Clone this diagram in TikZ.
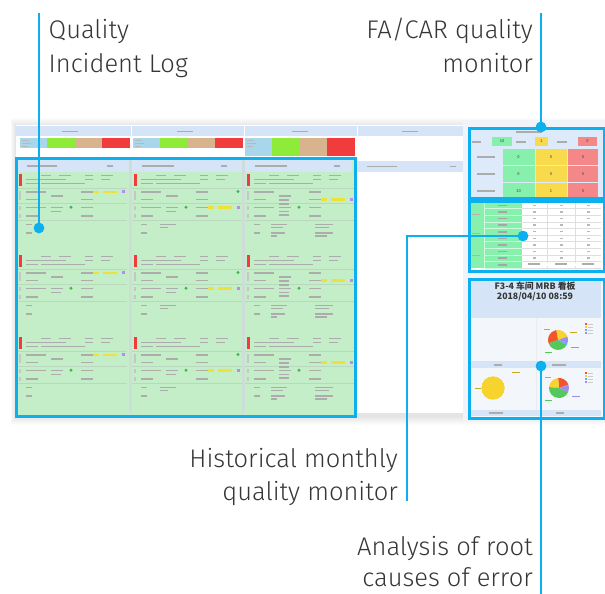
\documentclass[tikz,border=0pt]{standalone}
\usepackage{fontspec}
\setmainfont{Fira Sans Light}
\newfontfamily\cjk{Noto Sans CJK SC}
\definecolor{cy}{HTML}{0DB0EE}
\definecolor{lblue}{HTML}{D5E5F7}
\definecolor{lgreen}{HTML}{C4EEC8}
\definecolor{bgreen}{HTML}{8EEB3A}
\definecolor{tanc}{HTML}{D8B48E}
\definecolor{rred}{HTML}{F03C3C}
\definecolor{sky}{HTML}{A8D6EA}
\definecolor{txt}{HTML}{363636}
\definecolor{mgreen}{HTML}{86F0AC}
\definecolor{myel}{HTML}{F8DA4C}
\definecolor{mred}{HTML}{F48888}
\definecolor{hy}{HTML}{EEE23A}
\definecolor{hp}{HTML}{B98AF0}
\definecolor{dg}{HTML}{3DB84A}
\definecolor{sepc}{HTML}{B9D8BE}
\definecolor{colsep}{HTML}{CFDDD8}
\definecolor{rbg}{HTML}{F0F4FA}
\definecolor{abg}{HTML}{F3F7FC}
\definecolor{porange}{HTML}{F2552C}
\definecolor{pyellow}{HTML}{F6D32D}
\definecolor{pgreen}{HTML}{52C95A}
\definecolor{ppurple}{HTML}{9F8CF0}
\definecolor{pblue}{HTML}{6FA8F5}
\newcommand\tbar[3]{\fill[gray!65] (#1,#2) rectangle ++(#3,1.5);}
\newcommand\logcard[4]{%
\begin{scope}[shift={(#1,#2)}]
 \fill[rred] (4,2) rectangle (7,14);
 \tbar{26}{2.5}{10}\tbar{44}{2.5}{12}\tbar{70}{2.5}{8}\tbar{86}{2.5}{12}
 \tbar{11}{6.5}{40}\tbar{70}{6.5}{8}\tbar{86}{6.5}{9}
 \tbar{11}{10.5}{12}\tbar{26}{10.5}{44}
 \draw[sepc,line width=0.6pt] (2,16) -- (112,16);
 \fill[gray!45] (4,19) rectangle (5.5,28);
 \tbar{11}{19}{20}\tbar{66}{19}{12}
 \tbar{36}{23}{12}
 \tbar{11}{26.5}{12}\tbar{66}{26.5}{12}
 \draw[sepc,line width=0.6pt] (2,31) -- (112,31);
 \fill[gray!45] (4,34) rectangle (5.5,38);
 \tbar{11}{34.5}{20}\tbar{36}{34.5}{12}\fill[dg] (56,35.2) circle (1.6);\tbar{66}{34.5}{12}
 \tbar{36}{38.5}{10}
 \fill[gray!45] (4,42) rectangle (5.5,46);
 \tbar{11}{43}{12}\tbar{66}{43}{12}
 \draw[sepc,line width=0.6pt] (2,48) -- (112,48);
 \tbar{11}{51.5}{6}\tbar{11}{60}{6}
 \fill[hy] (78,#3) rectangle ++(6,2.6);
 \fill[hy] (88,#3) rectangle ++(14,2.6);
 \fill[hp] (107,#3-0.3) rectangle ++(3,3);
 #4
\end{scope}}
\newcommand\pieslice[5]{\fill[#5] (#1) -- ++(-#2:#4) arc[start angle=-#2, end angle=-#3, radius=#4] -- cycle;}
\begin{document}
\begin{tikzpicture}[x=1pt,y=-1pt,
  callout/.style={draw=cy, line width=2.3pt},
  dot/.style={circle, fill=cy, inner sep=0pt, minimum size=10.5pt},
  lbl/.style={text=txt, font=\fontsize{25.5}{34}\selectfont, inner sep=0pt},
  frame/.style={draw=cy, line width=2.5pt, inner sep=0pt, anchor=north west},
  tiny/.style={font=\cjk\fontsize{4}{5}\selectfont, inner sep=0pt, text=txt}]
\useasboundingbox (0,0) rectangle (605,594);
% shadow of the screenshot
\foreach \i in {1,...,9}
  \fill[black,opacity=0.012] (16-\i*0.6,125-\i+2) rectangle (605,413+\i+3);
\fill[white] (16,125) rectangle (605,413);
% header strip
\fill[lblue] (16,126) rectangle (465,136);
\tbar{62}{130.5}{16}\tbar{177}{130.5}{16}\tbar{292}{130.5}{16}\tbar{402}{130.5}{16}
\draw[white,line width=0.8pt] (131,126) -- (131,136) (244,126) -- (244,136) (357,126) -- (357,136);
% colour bars
\foreach \x/\h in {20/148,133/148,245/156}{
  \fill[sky] (\x,138) rectangle (\x+27,\h);
  \fill[bgreen] (\x+27,138) rectangle (\x+55,\h);
  \fill[tanc] (\x+55,138) rectangle (\x+82,\h);
  \fill[rred] (\x+82,138) rectangle (\x+110,\h);
  \fill[gray!55] (\x+2,140) rectangle ++(7,1.2);
  \fill[gray!55] (\x+2,143) rectangle ++(9,1.2);
  \fill[gray!55] (\x+2,146) rectangle ++(6,1.2);
}
% fourth column header (outside the log)
\fill[lblue] (357,161) rectangle (465,172);
\tbar{367}{165.8}{30}\tbar{450}{165.8}{6}
% right column background
\fill[rbg] (463,120) rectangle (605,420);
% ---------- log area ----------
\fill[lgreen] (15,157) rectangle (354,415);
\fill[lblue] (17,159) rectangle (352,172);
\tbar{27}{165}{30}\tbar{107}{165}{6}
\tbar{142}{165}{32}\tbar{221}{165}{6}
\tbar{255}{165}{32}\tbar{334}{165}{6}
\fill[colsep] (129,159) rectangle (131.5,413);
\fill[colsep] (242,159) rectangle (244.5,413);
\foreach \y in {172,253,335}{
  \logcard{15}{\y}{18.5}{}
  \logcard{130}{\y}{34}{\tbar{30}{51.5}{16}\tbar{30}{54.5}{8}\fill[dg] (108,19.5) circle (1.6);}
  \logcard{243}{\y}{26}{\tbar{28}{51.5}{16}\tbar{28}{54.5}{12}\tbar{28}{60}{14}\tbar{28}{63}{6}
     \tbar{72}{51.5}{18}\tbar{72}{54.5}{14}\tbar{72}{60}{18}\tbar{72}{63}{12}\tbar{36}{27}{10}\tbar{36}{31}{10}\tbar{36}{42}{10}}
}
% ---------- FA/CAR monitor ----------
\fill[lblue!80!white] (468,127) rectangle (603,197);
\tbar{516}{131}{26}
\tbar{472}{141}{9}\tbar{516}{141}{10}\tbar{557}{141}{10}
\fill[mgreen] (492,137) rectangle (512,146);
\fill[myel] (535,137) rectangle (548,146);
\fill[mred] (578,137) rectangle (597,146);
\node[tiny] (c11) at (502,141.5) {10};
\node[tiny] (c12) at (541.5,141.5) {1};
\node[tiny] (c13) at (587.5,141.5) {0};
\foreach \y/\a/\b/\c/\r in {149/0/0/0/2,166/0/0/0/3,183/10/1/0/4}{
  \fill[mgreen] (503,\y) rectangle (534.5,\y+15.5);
  \fill[myel] (536,\y) rectangle (566.5,\y+15.5);
  \fill[mred] (568,\y) rectangle (598,\y+15.5);
  \tbar{477}{\y+7}{18}
  \node[tiny] (g\r) at (518.5,\y+7.7) {\a};
  \node[tiny] (y\r) at (551,\y+7.7) {\b};
  \node[tiny] (r\r) at (583,\y+7.7) {\c};
}
% ---------- Historical monthly ----------
\fill[white] (468,200) rectangle (603,270);
\fill[mgreen] (470,202) rectangle (522,268);
\foreach \k in {0,...,9}{
  \pgfmathsetmacro\yy{202+\k*6.6}
  \draw[gray!25,line width=0.5pt] (522,\yy+6.6) -- (601,\yy+6.6);
  \draw[white!60!mgreen,line width=0.5pt] (484,\yy+6.6) -- (522,\yy+6.6);
  \fill[gray!70] (498,\yy+2.6) rectangle ++(9,1.5);
  \fill[gray!55] (533,\yy+2.6) rectangle ++(3,1.3);
  \fill[gray!55] (560,\yy+2.6) rectangle ++(3,1.3);
  \fill[gray!55] (587,\yy+2.6) rectangle ++(3,1.3);
}
\fill[gray!60] (472,214) rectangle ++(8,1.3);
\fill[gray!60] (472,233) rectangle ++(8,1.3);
\fill[gray!60] (472,255) rectangle ++(8,1.3);
\draw[white!60!mgreen,line width=0.5pt] (484,202) -- (484,268);
\draw[gray!25,line width=0.5pt] (547,202) -- (547,268) (575,202) -- (575,268);
\fill[white] (529,262.5) rectangle (600,266);
\tbar{528}{263}{12}\tbar{555}{263}{12}\tbar{582}{263}{12}
% ---------- Analysis of root causes ----------
\fill[abg] (468,278) rectangle (603,417);
\fill[lblue] (470,280) rectangle (601,318);
\node[font=\cjk\bfseries\fontsize{8.8}{10}\selectfont, text=txt, inner sep=0pt] (atitle) at (535,286.5) {F3-4 车间 MRB 看板};
\node[font=\cjk\bfseries\fontsize{8.8}{10}\selectfont, text=txt, inner sep=0pt] (adate) at (535,296.5) {2018/04/10 08:59};
\draw[gray!15,line width=0.6pt] (536,318) -- (536,415);
\fill[lblue] (470,361) rectangle (601,368);
\tbar{494}{364}{8}\tbar{552}{364}{14}
\fill[lblue] (470,410) rectangle (601,416);
\tbar{489}{412}{14}\tbar{556}{412}{8}
% top-right pie
\coordinate (p1) at (558,340);
\pieslice{p1}{20}{100}{10}{pyellow}
\pieslice{p1}{100}{200}{10}{porange}
\pieslice{p1}{200}{330}{10}{pgreen}
\pieslice{p1}{330}{345}{10}{pblue}
\pieslice{p1}{345}{380}{10}{ppurple}
\foreach \c [count=\j] in {porange,pyellow,pblue,ppurple}{
  \fill[\c] (585,320+\j*3) rectangle ++(2,2);
  \fill[gray!40] (588,320.5+\j*3) rectangle ++(5,1);
}
\fill[porange!70] (544,329) rectangle ++(6,1);
\fill[pyellow!80!black] (570,332) rectangle ++(7,1);
\fill[ppurple] (571,347) rectangle ++(8,1);
\fill[pgreen] (545,352) rectangle ++(7,1);
% bottom-left circle
\fill[pyellow] (493,388) circle (11.7);
\fill[pyellow!80!black] (475,388) rectangle ++(6,1);
\fill[pyellow!80!black] (512,372) rectangle ++(8,1);
% bottom-right pie
\coordinate (p2) at (559,388);
\pieslice{p2}{20}{95}{10}{porange}
\pieslice{p2}{95}{175}{10}{pyellow}
\pieslice{p2}{175}{335}{10}{pgreen}
\pieslice{p2}{335}{380}{10}{ppurple}
\foreach \c [count=\j] in {porange,pyellow,pblue,ppurple}{
  \fill[\c] (585,369+\j*3) rectangle ++(2,2);
  \fill[gray!40] (588,369.5+\j*3) rectangle ++(5,1);
}
\fill[porange!70] (545,377) rectangle ++(6,1);
\fill[ppurple] (572,396) rectangle ++(8,1);
\fill[pgreen] (545,400) rectangle ++(7,1);
% ---------- frames ----------
\node[frame, minimum width=339pt, minimum height=258pt] (logbox) at (15,157) {};
\node[frame, minimum width=135pt, minimum height=70pt] (fabox) at (468,127) {};
\node[frame, minimum width=135pt, minimum height=70pt] (histbox) at (468,200) {};
\node[frame, minimum width=135pt, minimum height=139pt] (rootbox) at (468,278) {};
% ---------- callouts ----------
\coordinate (qtop) at (39,13.5);
\coordinate (ftop) at (541,13.5);
\coordinate (hend) at (407,501);
\coordinate (aend) at (541,596);
\node[dot] (qdot) at (39,228) {};
\node[dot] (fdot) at (541,127) {};
\node[dot] (hdot) at (523,236) {};
\node[dot] (adot) at (541,366) {};
\draw[callout] (qtop) -- (qdot.center);
\draw[callout] (ftop) -- (fdot.center);
\draw[callout] (hdot.center) -| (hend);
\draw[callout] (adot.center) -- (aend);
\node[dot] at (qdot) {};
\node[dot] at (fdot) {};
\node[dot] at (hdot) {};
\node[dot] at (adot) {};
% ---------- labels ----------
\node[lbl, anchor=base west] (ql1) at (48.5,38.5) {Quality};
\node[lbl, anchor=base west] (ql2) at (48.5,72.5) {Incident Log};
\node[lbl, anchor=base east] (fl1) at (533,38.5) {FA/CAR quality};
\node[lbl, anchor=base east] (fl2) at (533,72.5) {monitor};
\node[lbl, anchor=base east] (hl1) at (398,467.5) {Historical monthly};
\node[lbl, anchor=base east] (hl2) at (398,500.5) {quality monitor};
\node[lbl, anchor=base east] (al1) at (533,555.5) {Analysis of root};
\node[lbl, anchor=base east] (al2) at (533,586.5) {causes of error};
\end{tikzpicture}
\end{document}
